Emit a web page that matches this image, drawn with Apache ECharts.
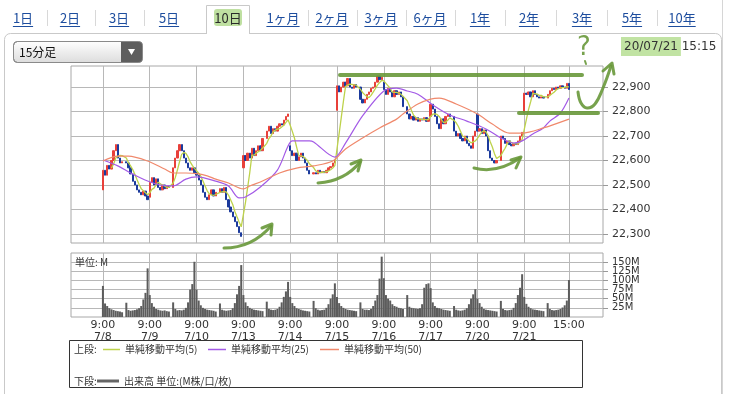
<!DOCTYPE html>
<html><head><meta charset="utf-8">
<script src="https://cdn.jsdelivr.net/npm/echarts@6/dist/echarts.min.js"></script>
<style>html,body{margin:0;padding:0;background:#fff;}#c{width:732px;height:394px;}</style>
</head><body><div id="c"></div>
<script>
// ---------------- DATA ----------------
const days = ['7/8','7/9','7/10','7/13','7/14','7/15','7/16','7/17','7/20','7/21'];
const openTime = '9:00';
const closeTime = '15:00';
const priceTicks = [22300,22400,22500,22600,22700,22800,22900];
const volumeTicks = [25,50,75,100,125,150];
const tabs = ['1日','2日','3日','5日','10日','1ヶ月','2ヶ月','3ヶ月','6ヶ月','1年','2年','3年','5年','10年'];
const selectedTab = '10日';
const barType = '15分足';
const stampDate = '20/07/21';
const stampTime = '15:15';
// open of first 15-min bar of each day
const dayOpen = [22480,22450,22550,22570,22660,22805,22920,22780,22790,22795];
// closes: 10 morning bars + 11 afternoon bars per day
const dayCloses = [
 [22560,22540,22580,22565,22600,22640,22665,22610,22590,22595, 22590,22570,22545,22515,22500,22480,22470,22460,22475,22455,22440],
 [22510,22530,22500,22525,22490,22480,22500,22485,22495,22490, 22570,22610,22640,22665,22640,22610,22590,22570,22560,22570,22550],
 [22540,22520,22500,22470,22450,22440,22460,22480,22455,22470, 22485,22470,22490,22440,22410,22390,22370,22350,22330,22305,22290],
 [22620,22600,22630,22610,22650,22620,22640,22660,22640,22690, 22720,22740,22710,22730,22720,22740,22750,22745,22765,22780,22790],
 [22640,22620,22630,22600,22615,22630,22610,22590,22560,22545, 22550,22545,22560,22550,22555,22550,22560,22570,22575,22590,22600],
 [22905,22880,22900,22920,22905,22935,22900,22895,22910,22900, 22850,22835,22850,22870,22880,22895,22900,22920,22945,22930,22940],
 [22890,22870,22895,22880,22860,22885,22870,22880,22860,22820, 22790,22770,22780,22765,22775,22760,22770,22765,22775,22760,22770],
 [22830,22810,22780,22750,22730,22770,22750,22780,22790,22780, 22720,22700,22710,22690,22680,22700,22670,22660,22650,22700,22720],
 [22720,22730,22710,22725,22700,22640,22610,22600,22590,22600, 22700,22690,22670,22680,22665,22660,22670,22665,22680,22700,22715],
 [22875,22870,22880,22860,22885,22870,22860,22855,22860,22855, 22870,22885,22895,22890,22900,22895,22905,22900,22895,22915,22890]
];
// volume (M) per bar
const dayVolumes = [
 [85,37,30,24,21,19,17,16,15,13, 39,19,17,18,19,21,24,30,48,66,133],
 [60,38,28,22,20,18,17,18,16,15, 40,22,18,19,18,20,25,40,75,90,151],
 [75,45,32,25,22,20,19,18,17,15, 37,20,18,17,18,19,24,38,62,85,142],
 [60,40,30,25,22,20,19,18,17,16, 42,22,20,19,20,22,28,40,55,70,96],
 [55,38,30,24,22,20,18,17,16,15, 44,24,20,18,19,20,25,35,50,62,92],
 [55,38,30,25,22,20,19,18,17,16, 40,22,20,20,19,22,30,45,60,105,165],
 [106,60,50,45,35,30,28,25,24,22, 60,28,25,24,23,22,24,35,80,90,92],
 [79,40,30,25,24,22,20,19,18,17, 30,20,18,17,18,20,24,35,50,62,76],
 [50,38,28,22,20,19,18,17,16,15, 44,22,19,18,19,20,25,38,60,80,117],
 [55,36,28,24,21,20,19,18,17,16, 38,22,19,18,19,20,22,26,32,45,101]
];
// moving averages: [day, bar, value]
const ma25Points = [[0,0,22602],[0,7,22578],[0,12,22549],[0,20,22516],[1,5,22500],[1,10,22496],[1,16,22524],[2,0,22533],[2,9,22516],[2,14,22496],[2,19,22447],[3,1,22451],[3,8,22492],[3,15,22561],[3,20,22659],[4,1,22680],[4,9,22680],[4,10,22676],[4,20,22614],[5,4,22671],[5,11,22782],[6,0,22884],[6,6,22896],[6,10,22884],[6,15,22871],[7,1,22827],[7,9,22786],[7,16,22761],[8,4,22729],[8,10,22692],[8,16,22671],[8,20,22680],[9,4,22708],[9,9,22733],[9,11,22761],[9,16,22794],[9,20,22855]];
const ma50Points = [[0,0,22598],[0,7,22618],[0,11,22618],[0,20,22598],[1,7,22565],[1,10,22549],[1,16,22549],[2,1,22545],[2,5,22537],[2,9,22524],[2,14,22508],[3,0,22484],[3,3,22496],[3,9,22516],[3,16,22549],[4,3,22569],[4,10,22578],[4,19,22598],[5,4,22647],[5,11,22692],[5,19,22733],[6,6,22769],[6,9,22790],[6,15,22831],[7,0,22851],[7,4,22855],[7,11,22831],[8,0,22790],[8,7,22749],[8,14,22712],[8,20,22712],[9,9,22733],[9,20,22769]];
const legendTop = ['単純移動平均(5)','単純移動平均(25)','単純移動平均(50)'];
const legendBottom = '出来高 単位:(M株/口/枚)';

// ---------------- BUILD ----------------
const MORNING = 10, DAY_SLOTS = 22, FIRST = 15, N = 251;
const slotOf = (d, b) => FIRST + d * DAY_SLOTS + (b < MORNING ? b : b + 1);
const labelSlots = {};
days.forEach((d, i) => { labelSlots[slotOf(i, 0)] = openTime + '\n' + d; });
labelSlots[slotOf(days.length - 1, 20)] = closeTime;
const isLabel = (idx) => labelSlots[idx] !== undefined;
const cats = Array.from({length: N}, (_, i) => 's' + i);

const candle = new Array(N).fill('-');
const vol = new Array(N).fill('-');
const flat = [];
dayCloses.forEach((arr, di) => arr.forEach((c, b) => {
  const o = b === 0 ? dayOpen[di] : arr[b - 1];
  const s = slotOf(di, b);
  candle[s] = [o, c, Math.min(o, c), Math.max(o, c)];
  vol[s] = dayVolumes[di][b];
  flat.push([s, c]);
}));
const ma5 = [];
for (let i = 4; i < flat.length; i++) {
  let sum = 0; for (let j = i - 4; j <= i; j++) sum += flat[j][1];
  ma5.push([flat[i][0], +(sum / 5).toFixed(1)]);
}
const toLine = pts => pts.map(p => [slotOf(p[0], p[1]), p[2]]);

// ---------------- STYLE / LAYOUT ----------------
const GRID_L = 71, GRID_W = 532;
const gridColor = '#b8b8b8';
const UP = '#e8403a', DOWN = '#1b3a9c';
const C5 = '#bdd24a', C25 = '#a35ae6', C50 = '#f0896c';
const green = 'rgba(104,152,58,0.9)';
const tabX = [23, 70, 119, 169, 228, 283, 332, 381, 430, 480, 529, 582, 632, 682];
const fontJP = '"Noto Sans CJK JP", sans-serif';
const fontNum = '"DejaVu Sans", sans-serif';

const mctx = document.createElement('canvas').getContext('2d');
function tw(t, size, fam) { mctx.font = size + 'px ' + fam; return mctx.measureText(t).width; }

const graphics = [];
// card
graphics.push({type:'rect', shape:{x:4.5, y:33.5, width:717, height:372, r:6}, style:{fill:'#fff', stroke:'#c9c9c9', lineWidth:1}, z:-10});
graphics.push({type:'line', shape:{x1:722.5, y1:0, x2:722.5, y2:394}, style:{stroke:'#d6d6d6', lineWidth:1}, z:-9});
// selected tab box
const selIdx = tabs.indexOf(selectedTab);
graphics.push({type:'polyline', shape:{points:[[tabX[selIdx]-21.5,34],[tabX[selIdx]-21.5,5.5],[tabX[selIdx]+21.5,5.5],[tabX[selIdx]+21.5,34]]}, style:{fill:'#fff', stroke:'#c9c9c9', lineWidth:1}, z:-8});
graphics.push({type:'rect', shape:{x:tabX[selIdx]-19, y:7, width:38, height:20}, style:{fill:'#fff'}, z:-8});
graphics.push({type:'rect', shape:{x:tabX[selIdx]-14, y:9, width:28, height:17, r:3}, style:{fill:'rgba(170,214,130,0.75)'}, z:-7});
tabs.forEach((t, i) => {
  const w = tw(t, 13, fontJP);
  graphics.push({type:'text', x:tabX[i], y:18, style:{text:t, font:'13px ' + fontJP, fill: i === selIdx ? '#2a2a2a' : '#1d4d9e', align:'center', verticalAlign:'middle'}, z:5});
  if (i !== selIdx) graphics.push({type:'line', shape:{x1:tabX[i]-w/2, y1:26.5, x2:tabX[i]+w/2, y2:26.5}, style:{stroke:'#1d4d9e', lineWidth:1}, z:5});
  if (i < tabs.length - 1 && i !== selIdx && i + 1 !== selIdx) {
    const mx = Math.round((tabX[i] + tabX[i+1]) / 2) + 0.5;
    graphics.push({type:'line', shape:{x1:mx, y1:10, x2:mx, y2:26}, style:{stroke:'#d8d8d8', lineWidth:1}, z:5});
  }
});
// dropdown
graphics.push({type:'rect', shape:{x:13.5, y:41.5, width:129, height:21, r:4}, style:{fill:new echarts.graphic.LinearGradient(0,0,0,1,[{offset:0,color:'#ffffff'},{offset:1,color:'#dcdcdc'}]), stroke:'#8a8a8a', lineWidth:1}, z:5});
graphics.push({type:'rect', shape:{x:121, y:42, width:21, height:20, r:[0,3,3,0]}, style:{fill:'#5e5e5e'}, z:6});
graphics.push({type:'polygon', shape:{points:[[128,49],[135,49],[131.5,55]]}, style:{fill:'#fff'}, z:7});
graphics.push({type:'text', x:19, y:52.5, style:{text:barType, font:'12px ' + fontJP, fill:'#111', verticalAlign:'middle'}, z:7});
// timestamp
const dW = tw(stampDate, 12, fontNum);
graphics.push({type:'rect', shape:{x:621, y:37, width:dW + 6, height:19}, style:{fill:'rgba(178,220,140,0.8)'}, z:4});
graphics.push({type:'text', x:624, y:47, style:{text:stampDate + ' ' + stampTime, font:'12px ' + fontNum, fill:'#333', verticalAlign:'middle'}, z:6});
// volume unit
graphics.push({type:'text', x:75, y:262, style:{text:'単位: M', font:'10px ' + fontJP, fill:'#333', verticalAlign:'middle'}, z:20});
// legend box
graphics.push({type:'rect', shape:{x:69.5, y:340.5, width:513, height:47}, style:{fill:'#fff', stroke:'#333', lineWidth:1}, z:5});
const ly1 = 349, ly2 = 381, lf = '10px ' + fontJP;
graphics.push({type:'text', x:74, y:ly1, style:{text:'上段:', font:lf, fill:'#333', verticalAlign:'middle'}, z:6});
const legX = [[103,120,125],[208,226,231],[320,339,344]];
const legC = [C5, C25, C50];
legendTop.forEach((t, i) => {
  graphics.push({type:'line', shape:{x1:legX[i][0], y1:ly1+0.5, x2:legX[i][1], y2:ly1+0.5}, style:{stroke:legC[i], lineWidth:1.5}, z:6});
  graphics.push({type:'text', x:legX[i][2], y:ly1, style:{text:t, font:lf, fill:'#333', verticalAlign:'middle'}, z:6});
});
graphics.push({type:'text', x:74, y:ly2, style:{text:'下段:', font:lf, fill:'#333', verticalAlign:'middle'}, z:6});
graphics.push({type:'line', shape:{x1:97, y1:ly2, x2:119, y2:ly2}, style:{stroke:'#666', lineWidth:3}, z:6});
graphics.push({type:'text', x:124, y:ly2, style:{text:legendBottom, font:lf, fill:'#333', verticalAlign:'middle'}, z:6});
// hand-drawn green annotations
const gs = (w) => ({stroke:green, lineWidth:w, lineCap:'round', lineJoin:'round', fill:null});
graphics.push({type:'line', shape:{x1:340, y1:75, x2:582, y2:75}, style:gs(4), z:50});
graphics.push({type:'line', shape:{x1:519, y1:113, x2:598, y2:113}, style:gs(4), z:50});
graphics.push({type:'polyline', shape:{points:[[578,92],[581,103],[587,108],[595,104],[603,88],[611,66]], smooth:0.4}, style:gs(3), z:50});
graphics.push({type:'polyline', shape:{points:[[603,71],[612,63],[614,74]]}, style:gs(3), z:50});
graphics.push({type:'bezierCurve', shape:{x1:224, y1:248, cpx1:252, cpy1:248, x2:271, y2:226}, style:gs(3), z:50});
graphics.push({type:'polyline', shape:{points:[[262,228],[272,224],[271,235]]}, style:gs(3), z:50});
graphics.push({type:'bezierCurve', shape:{x1:318, y1:183, cpx1:345, cpy1:181, x2:360, y2:162}, style:gs(3), z:50});
graphics.push({type:'polyline', shape:{points:[[351,164],[361,160],[358,171]]}, style:gs(3), z:50});
graphics.push({type:'bezierCurve', shape:{x1:474, y1:168, cpx1:497, cpy1:174, x2:520, y2:158}, style:gs(3), z:50});
graphics.push({type:'polyline', shape:{points:[[511,160],[521,157],[516,168]]}, style:gs(3), z:50});
graphics.push({type:'text', x:584, y:48, style:{text:'?', font:'26px ' + fontNum, fill:green, align:'center', verticalAlign:'middle'}, z:50});
graphics.push({type:'line', shape:{x1:585, y1:61, x2:586, y2:64}, style:gs(2), z:50});

const xBase = {
  type:'category', data:cats, boundaryGap:false,
  axisLine:{show:false}, axisTick:{show:false},
  splitLine:{show:true, interval:(i) => isLabel(i), lineStyle:{color:gridColor, width:1}}
};
const option = {
  animation:false,
  backgroundColor:'#fff',
  grid:[
    {left:GRID_L, top:66, width:GRID_W, height:177, show:true, borderColor:'#a8a8a8', borderWidth:1, backgroundColor:'#fff'},
    {left:GRID_L, top:253, width:GRID_W, height:64, show:true, borderColor:'#a8a8a8', borderWidth:1, backgroundColor:'#fff'}
  ],
  xAxis:[
    Object.assign({gridIndex:0, axisLabel:{show:false}}, xBase),
    Object.assign({gridIndex:1, axisLabel:{show:true, interval:(i) => isLabel(i), formatter:(v, i) => labelSlots[i] || '', fontSize:11, lineHeight:12, color:'#333', margin:2, fontFamily:'DejaVu Sans'}}, xBase)
  ],
  yAxis:[
    {type:'value', gridIndex:0, position:'right', min:22263, max:22986, scale:true,
     axisLine:{show:false},
     axisTick:{show:true, length:5, lineStyle:{color:'#999'}, customValues:priceTicks},
     axisLabel:{customValues:priceTicks, formatter:(v) => v.toLocaleString('en-US'), fontSize:11, color:'#333', margin:9, fontFamily:'DejaVu Sans', showMinLabel:true, showMaxLabel:true, hideOverlap:false},
     splitLine:{show:true, lineStyle:{color:gridColor, width:1}}},
    {type:'value', gridIndex:1, position:'right', min:0, max:175, interval:25,
     axisLine:{show:false},
     axisTick:{show:true, length:5, lineStyle:{color:'#999'}, customValues:volumeTicks},
     axisLabel:{show:false},
     splitLine:{show:true, lineStyle:{color:gridColor, width:1}}}
  ],
  series:[
    {type:'candlestick', xAxisIndex:0, yAxisIndex:0, data:candle, barWidth:1.8, z:3,
     itemStyle:{color:UP, color0:DOWN, borderColor:UP, borderColor0:DOWN, borderWidth:1}},
    {type:'line', xAxisIndex:0, yAxisIndex:0, data:ma5, showSymbol:false, z:4, lineStyle:{color:C5, width:1.3}},
    {type:'line', xAxisIndex:0, yAxisIndex:0, data:toLine(ma25Points), showSymbol:false, smooth:0.3, z:4, lineStyle:{color:C25, width:1.2}},
    {type:'line', xAxisIndex:0, yAxisIndex:0, data:toLine(ma50Points), showSymbol:false, smooth:0.3, z:4, lineStyle:{color:C50, width:1.2}},
    {type:'bar', xAxisIndex:1, yAxisIndex:1, data:vol, barWidth:2, itemStyle:{color:'#5c5c5c'}, z:3}
  ],
  graphic:graphics
};
const chart = echarts.init(document.getElementById('c'), null, {width:732, height:394});
chart.setOption(option);
// volume axis labels placed through the axis scale (avoids overlap-hiding)
const volLabels = volumeTicks.map(v => {
  const y = chart.convertToPixel({yAxisIndex:1}, v);
  return {type:'text', x:GRID_L + GRID_W + 9, y:y, style:{text:v + 'M', font:'10px ' + fontNum, fill:'#333', verticalAlign:'middle'}, z:10};
});
chart.setOption({graphic: graphics.concat(volLabels)});
</script></body></html>
